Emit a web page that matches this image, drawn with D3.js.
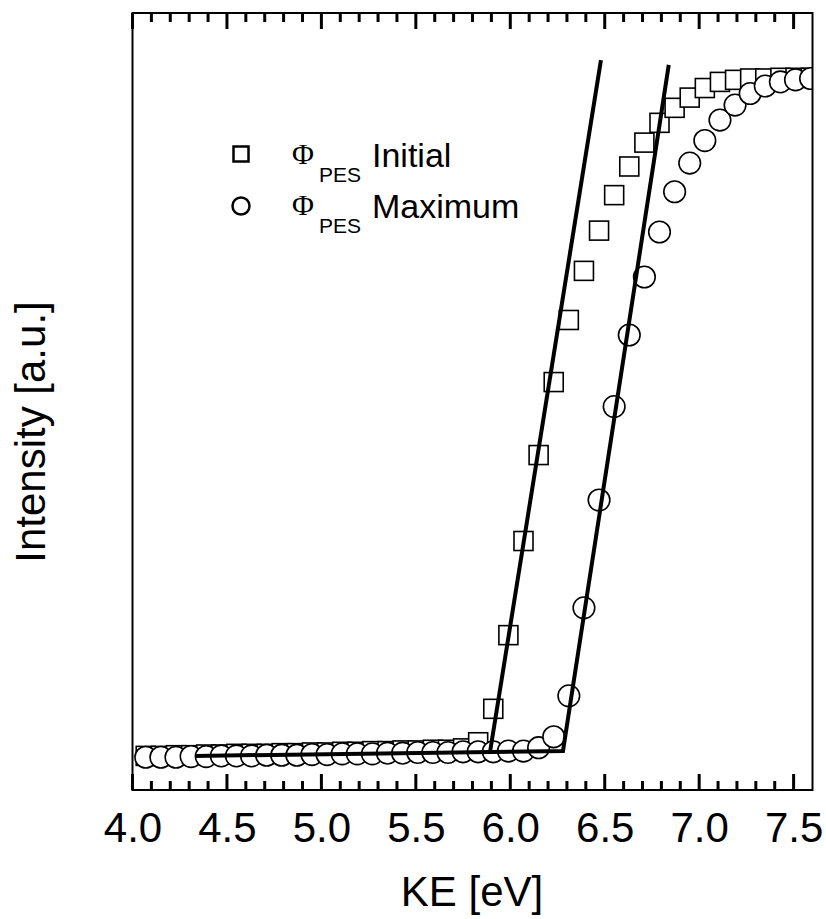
<!DOCTYPE html>
<html>
<head>
<meta charset="utf-8">
<script src="https://cdn.jsdelivr.net/npm/d3@7"></script>
<style>
  html, body { margin: 0; padding: 0; background: #fff; }
  svg { display: block; }
</style>
</head>
<body>
<svg id="chart" width="826" height="919"></svg>
<script>
// Kinetic energy grid (eV) shared by both spectra
const ke = [4.07, 4.15, 4.23, 4.31, 4.39, 4.47, 4.55, 4.63, 4.71, 4.79,
            4.87, 4.95, 5.03, 5.11, 5.19, 5.27, 5.35, 5.43, 5.51, 5.59,
            5.67, 5.75, 5.83, 5.91, 5.99, 6.07, 6.15, 6.23, 6.31, 6.39,
            6.47, 6.55, 6.63, 6.71, 6.79, 6.87, 6.95, 7.03, 7.11, 7.19,
            7.27, 7.35, 7.43, 7.51, 7.59];

// Normalised secondary-electron cutoff intensity, initial work function
const initialPES = [0.006, 0.006, 0.007, 0.007, 0.008, 0.008, 0.009, 0.009, 0.009, 0.010,
                    0.010, 0.011, 0.011, 0.012, 0.012, 0.013, 0.013, 0.014, 0.014, 0.015,
                    0.015, 0.017, 0.026, 0.075, 0.183, 0.321, 0.447, 0.554, 0.645, 0.717,
                    0.776, 0.828, 0.870, 0.905, 0.934, 0.956, 0.971, 0.985, 0.994, 0.997,
                    0.999, 0.999, 1.000, 1.000, 1.000];

// Normalised secondary-electron cutoff intensity, maximum work function
const maximumPES = [0.004, 0.004, 0.004, 0.005, 0.005, 0.006, 0.006, 0.006, 0.007, 0.007,
                    0.007, 0.008, 0.008, 0.009, 0.009, 0.009, 0.010, 0.010, 0.011, 0.011,
                    0.011, 0.012, 0.012, 0.012, 0.013, 0.013, 0.018, 0.034, 0.094, 0.223,
                    0.381, 0.518, 0.623, 0.708, 0.774, 0.833, 0.875, 0.908, 0.938, 0.960,
                    0.977, 0.988, 0.994, 0.997, 0.999];

// Linear fits: background line joined to the cutoff edge of the maximum spectrum
const fitMaxKE = [4.333, 6.279, 6.839];
const fitMaxI  = [0.006, 0.013, 1.019];
// Linear fit to the cutoff edge of the initial spectrum
const fitInitKE = [5.893, 6.480];
const fitInitI  = [0.012, 1.026];

const majorTicks = [4.0, 4.5, 5.0, 5.5, 6.0, 6.5, 7.0, 7.5];
const minorTicks = [4.1, 4.2, 4.3, 4.4, 4.6, 4.7, 4.8, 4.9, 5.1, 5.2, 5.3, 5.4,
                    5.6, 5.7, 5.8, 5.9, 6.1, 6.2, 6.3, 6.4, 6.6, 6.7, 6.8, 6.9,
                    7.1, 7.2, 7.3, 7.4];
const tickLabels = ["4.0", "4.5", "5.0", "5.5", "6.0", "6.5", "7.0", "7.5"];

(function draw() {
  const svg = d3.select("#chart");
  const m = { left: 132.5, right: 812.5, top: 13, bottom: 790 };

  const x = d3.scaleLinear().domain([4.0, 7.6]).range([m.left, m.right]);
  const y = d3.scaleLinear().domain([-0.044, 1.095]).range([m.bottom, m.top]);

  svg.append("rect").attr("width", 826).attr("height", 919).attr("fill", "#fff");

  const sans = "'Liberation Sans', Arial, Helvetica, sans-serif";
  const serif = "'Liberation Serif', 'Times New Roman', serif";

  svg.append("defs").append("clipPath").attr("id", "plot-clip")
    .append("rect")
    .attr("x", m.left).attr("y", m.top)
    .attr("width", m.right - m.left).attr("height", m.bottom - m.top);

  // Data markers, clipped to the plot frame
  const plot = svg.append("g").attr("clip-path", "url(#plot-clip)");
  const sq = 19;
  plot.selectAll("rect.initial")
    .data(ke.map((k, i) => [k, initialPES[i]]))
    .join("rect").attr("class", "initial")
    .attr("x", d => x(d[0]) - sq / 2).attr("y", d => y(d[1]) - sq / 2)
    .attr("width", sq).attr("height", sq)
    .attr("fill", "#fff").attr("stroke", "#000").attr("stroke-width", 1.6);

  plot.selectAll("circle.maximum")
    .data(ke.map((k, i) => [k, maximumPES[i]]))
    .join("circle").attr("class", "maximum")
    .attr("cx", d => x(d[0])).attr("cy", d => y(d[1])).attr("r", 10.8)
    .attr("fill", "#fff").attr("stroke", "#000").attr("stroke-width", 1.6);

  // Fit lines
  const line = d3.line().x(d => x(d[0])).y(d => y(d[1]));
  svg.append("path")
    .attr("d", line(fitMaxKE.map((k, i) => [k, fitMaxI[i]])))
    .attr("fill", "none").attr("stroke", "#000").attr("stroke-width", 4)
    .attr("stroke-linejoin", "miter");
  svg.append("path")
    .attr("d", line(fitInitKE.map((k, i) => [k, fitInitI[i]])))
    .attr("fill", "none").attr("stroke", "#000").attr("stroke-width", 4);

  // Frame
  svg.append("rect")
    .attr("x", m.left).attr("y", m.top)
    .attr("width", m.right - m.left).attr("height", m.bottom - m.top)
    .attr("fill", "none").attr("stroke", "#000").attr("stroke-width", 2);

  // Inward tick marks on bottom and top edges
  const ticks = minorTicks.map(v => ({ v: v, len: 9 }))
    .concat(majorTicks.map(v => ({ v: v, len: 16 })));
  const tickG = svg.append("g").attr("fill", "#000");
  tickG.selectAll("rect.tb").data(ticks).join("rect").attr("class", "tb")
    .attr("x", d => x(d.v) - 1.5).attr("width", 3)
    .attr("y", d => m.bottom - d.len).attr("height", d => d.len);
  tickG.selectAll("rect.tt").data(ticks).join("rect").attr("class", "tt")
    .attr("x", d => x(d.v) - 1.5).attr("width", 3)
    .attr("y", m.top).attr("height", d => d.len);

  // Tick labels via the bottom axis generator
  const bAxis = svg.append("g").attr("transform", `translate(0,${m.bottom})`)
    .call(d3.axisBottom(x).tickValues(majorTicks).tickSize(0)
          .tickFormat((d, i) => tickLabels[i]));
  bAxis.select(".domain").remove();
  bAxis.selectAll("text")
    .attr("y", 52).attr("dy", 0)
    .attr("font-family", sans).attr("font-size", 42).attr("fill", "#000");

  // Legend
  const legend = svg.append("g");
  legend.append("rect").attr("x", 241 - 7.5).attr("y", 154 - 7.5)
    .attr("width", 15).attr("height", 15)
    .attr("fill", "none").attr("stroke", "#000").attr("stroke-width", 2.5);
  legend.append("circle").attr("cx", 241).attr("cy", 206).attr("r", 8.5)
    .attr("fill", "none").attr("stroke", "#000").attr("stroke-width", 2.5);

  const rows = [{ base: 164, label: "Initial" }, { base: 215, label: "Maximum" }];
  rows.forEach(r => {
    legend.append("text").attr("x", 292).attr("y", r.base)
      .attr("font-family", serif).attr("font-size", 30).attr("fill", "#000").text("Φ");
    legend.append("text").attr("x", 319).attr("y", r.base + 18)
      .attr("font-family", sans).attr("font-size", 21).attr("fill", "#000").text("PES");
    legend.append("text").attr("x", 372).attr("y", r.base + 3)
      .attr("font-family", sans).attr("font-size", 34).attr("fill", "#000").text(r.label);
  });

  // Axis titles
  svg.append("text")
    .attr("x", 472).attr("y", 906)
    .attr("text-anchor", "middle")
    .attr("font-family", sans).attr("font-size", 42).attr("fill", "#000")
    .text("KE [eV]");

  svg.append("text")
    .attr("transform", "translate(45,432) rotate(-90)")
    .attr("text-anchor", "middle")
    .attr("font-family", sans).attr("font-size", 42).attr("fill", "#000")
    .text("Intensity [a.u.]");
})();
</script>
</body>
</html>
